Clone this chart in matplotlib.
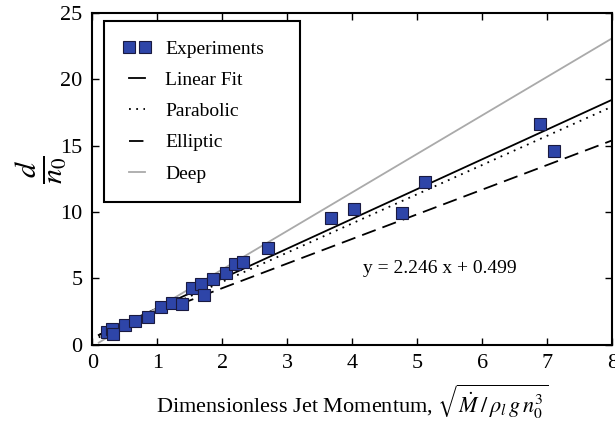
import numpy as np
import matplotlib
matplotlib.use('Agg')
import matplotlib.pyplot as plt

plt.rcParams['font.family'] = ['Liberation Serif', 'DejaVu Serif']
plt.rcParams['mathtext.fontset'] = 'stix'

# measured points
exp_x = [0.22, 0.30, 0.32, 0.50, 0.66, 0.85, 1.05, 1.22, 1.38, 1.54, 1.68, 1.72,
         1.86, 2.06, 2.20, 2.32, 2.70, 3.67, 4.02, 4.77, 5.12, 6.89, 7.10]
exp_y = [0.98, 1.16, 0.80, 1.46, 1.75, 2.12, 2.85, 3.15, 3.05, 4.30, 4.55, 3.75,
         4.95, 5.40, 6.10, 6.20, 7.30, 9.58, 10.20, 9.93, 12.26, 16.65, 14.56]

# fit / model lines (end points)
line_x = [0.1, 8.0]
fit_coef = [2.246, 0.499]
parabolic_y = [0.55, 17.95]
elliptic_y = [0.73, 15.40]
deep_y = [0.15, 23.10]

fig = plt.figure(figsize=(6.15, 4.26), dpi=100)
ax = fig.add_axes([0.150, 0.191, 0.8456, 0.7785])

lx = np.array(line_x)
ax.plot(exp_x, exp_y, 's', color='#2E45A8', markeredgecolor='#1a1a40',
        markeredgewidth=0.8, markersize=9, label='Experiments', zorder=3)
ax.plot(lx, np.polyval(fit_coef, lx), '-', color='black', lw=1.3, label='Linear Fit')
ax.plot(lx, parabolic_y, color='black', lw=1.3, linestyle=(0, (1, 3)), label='Parabolic')
ax.plot(lx, elliptic_y, color='black', lw=1.3, linestyle=(0, (8, 4)), label='Elliptic')
ax.plot(lx, deep_y, '-', color='#aaaaaa', lw=1.3, label='Deep')

ax.text(4.16, 5.74, 'y = 2.246 x + 0.499', fontsize=14, ha='left', va='center')

ax.set_xlim(0, 8)
ax.set_ylim(0, 25)
ax.set_xticks(range(0, 9))
ax.set_yticks(range(0, 26, 5))
ax.tick_params(direction='in', top=True, right=True, length=5, width=1,
               labelsize=16, pad=7)
for s in ax.spines.values():
    s.set_linewidth(1.5)

ax.set_xlabel(r'Dimensionless Jet Momentum, $\sqrt{\dot{M}\,/\,\rho_l\, g\, n_0^3}$',
              fontsize=16, labelpad=7)
ax.set_ylabel(r'$\frac{d}{n_0}$', fontsize=31, va='center')
ax.yaxis.set_label_coords(-0.097, 0.527)

leg = ax.legend(loc='upper left', bbox_to_anchor=(0.0225, 0.5, 0.377, 0.477),
                mode='expand', borderaxespad=0, fontsize=14, numpoints=2,
                handlelength=1.4, handletextpad=0.75, labelspacing=0.7,
                borderpad=1.0, fancybox=False, framealpha=1)
leg.get_frame().set_edgecolor('black')
leg.get_frame().set_linewidth(1.5)

plt.savefig('out.png', dpi=100)
